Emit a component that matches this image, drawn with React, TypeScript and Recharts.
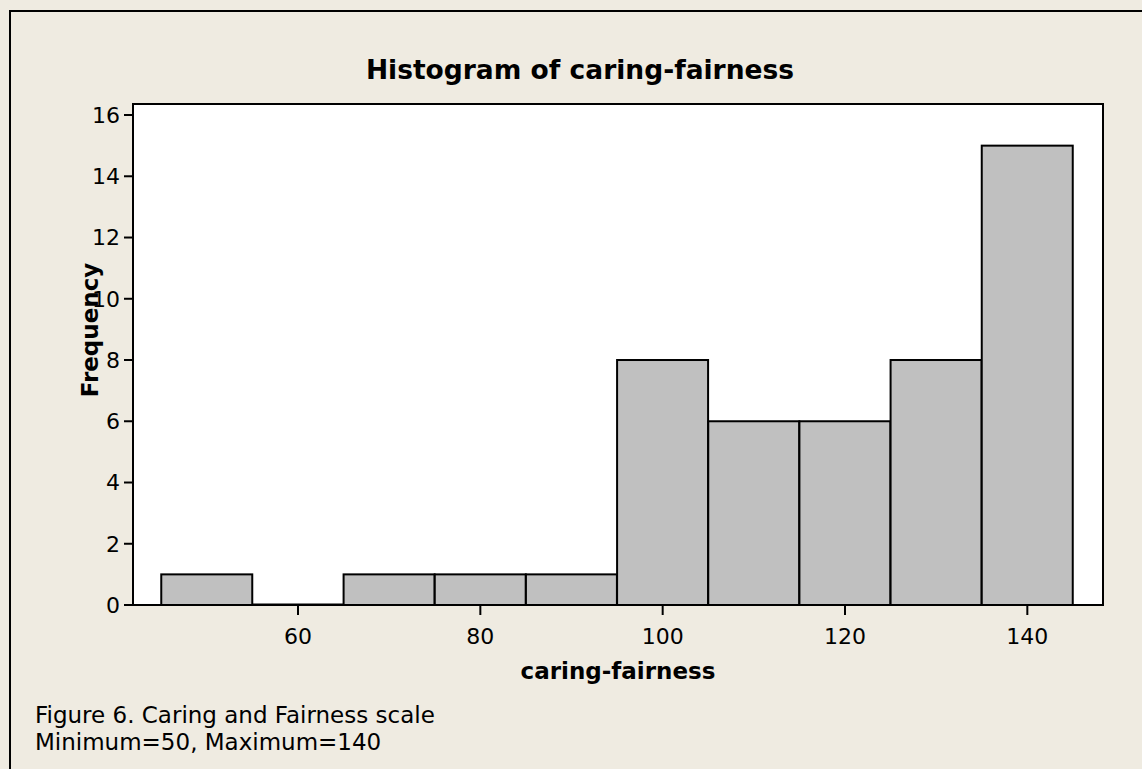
import { BarChart, Bar, XAxis, YAxis, CartesianGrid, Label, ReferenceArea } from "recharts";

const binCenters = [50, 60, 70, 80, 90, 100, 110, 120, 130, 140];
const frequencies = [1, 0, 1, 1, 1, 8, 6, 6, 8, 15];
const xTicks = [60, 80, 100, 120, 140];
const yTicks = [0, 2, 4, 6, 8, 10, 12, 14, 16];
const xDomain = [41.9, 148.3];
const yDomain = [0, 16.36];

const data = binCenters.map((c, i) => ({ bin: c, count: frequencies[i] }));

const FONT = "Tahoma, 'DejaVu Sans', Verdana, sans-serif";

// zero-count bins still show as a flat line on the axis
const HistBar = (props: any) => {
  const { x, y, width, height } = props;
  if (!height) {
    return <line x1={x} x2={x + width} y1={y} y2={y} stroke="#000" strokeWidth={3} />;
  }
  return (
    <rect x={x} y={y} width={width} height={height} fill="#c0c0c0" stroke="#000" strokeWidth={2} />
  );
};

export default function App() {
  return (
    <div
      style={{
        position: "absolute",
        left: 0,
        top: 0,
        width: 1142,
        height: 769,
        background: "#efebe1",
        overflow: "hidden",
        fontFamily: FONT,
        color: "#000",
      }}
    >
      <div
        style={{
          position: "absolute",
          left: 9,
          top: 10,
          right: 0,
          bottom: 0,
          borderLeft: "2px solid #000",
          borderTop: "2px solid #000",
        }}
      />
      <div
        style={{
          position: "absolute",
          left: 330,
          width: 500,
          top: 55,
          lineHeight: "30px",
          textAlign: "center",
          fontWeight: "bold",
          fontSize: 26.5,
          whiteSpace: "nowrap",
        }}
      >
        Histogram of caring-fairness
      </div>
      <div style={{ position: "absolute", left: 0, top: 0 }}>
        <BarChart
          width={1142}
          height={769}
          data={data}
          margin={{ top: 104, right: 39, left: 0, bottom: 84 }}
          barCategoryGap={0}
          barGap={0}
        >
          <CartesianGrid fill="#fff" horizontal={false} vertical={false} />
          <ReferenceArea
            x1={xDomain[0]}
            x2={xDomain[1]}
            y1={yDomain[0]}
            y2={yDomain[1]}
            fill="#fff"
            fillOpacity={0}
            stroke="#000"
            strokeWidth={2}
            ifOverflow="visible"
          />
          <XAxis
            dataKey="bin"
            type="number"
            domain={xDomain}
            ticks={xTicks}
            allowDataOverflow
            height={80}
            tickSize={10}
            axisLine={{ stroke: "#000", strokeWidth: 2 }}
            tickLine={{ stroke: "#000", strokeWidth: 2 }}
            tick={{ fill: "#000", fontSize: 22, fontFamily: FONT }}
            tickMargin={13}
          >
            <Label
              value="caring-fairness"
              position="insideBottom"
              offset={6}
              style={{ fill: "#000", fontSize: 23, fontWeight: "bold", fontFamily: FONT }}
            />
          </XAxis>
          <YAxis
            type="number"
            domain={yDomain}
            ticks={yTicks}
            allowDataOverflow
            width={133}
            tickSize={9}
            axisLine={{ stroke: "#000", strokeWidth: 2 }}
            tickLine={{ stroke: "#000", strokeWidth: 2 }}
            tick={{ fill: "#000", fontSize: 22, fontFamily: FONT }}
            tickMargin={4}
          />
          <Bar dataKey="count" barSize={91} shape={HistBar} isAnimationActive={false} />
        </BarChart>
      </div>
      <div
        style={{
          position: "absolute",
          left: 90,
          top: 330,
          transform: "translate(-50%, -50%) rotate(-90deg)",
          fontWeight: "bold",
          fontSize: 23,
          whiteSpace: "nowrap",
          lineHeight: "26px",
        }}
      >
        Frequency
      </div>
      <div
        style={{
          position: "absolute",
          left: 35,
          top: 702,
          fontSize: 23,
          lineHeight: "27px",
          whiteSpace: "nowrap",
        }}
      >
        Figure 6. Caring and Fairness scale
        <br />
        Minimum=50, Maximum=140
      </div>
    </div>
  );
}
